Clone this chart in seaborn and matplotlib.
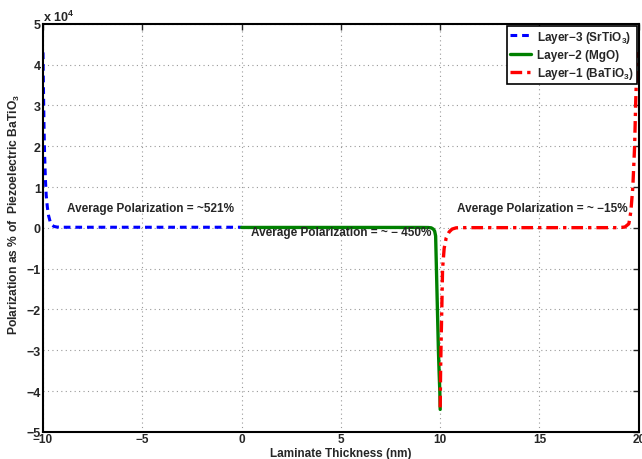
import matplotlib
matplotlib.use("Agg")
import matplotlib.pyplot as plt
import matplotlib.transforms as mtransforms
import seaborn as sns
import pandas as pd
from matplotlib.ticker import FuncFormatter

# ---- data ----
x3 = [-10, -9.98, -9.95, -9.92, -9.88, -9.84, -9.78, -9.72, -9.64, -9.55, -9.45, -9.3, -9, -8, -6, -4, -2, 0]
y3 = [43000, 35000, 25000, 18000, 12000, 8000, 5000, 3000, 1500, 700, 350, 200, 150, 150, 150, 150, 150, 150]

x2 = [0, 2, 4, 6, 8, 9, 9.4, 9.55, 9.65, 9.72, 9.77, 9.81, 9.86, 9.91, 9.95, 9.98, 10]
y2 = [100, 100, 100, 100, 100, 100, 80, 0, -300, -800, -2000, -10000, -20000, -30000, -36000, -40000, -44500]

x1 = [10, 10.02, 10.05, 10.08, 10.12, 10.2, 10.3, 10.45, 10.6, 10.8, 11, 13, 15, 17, 19, 19.3, 19.5, 19.6, 19.7, 19.79, 19.84, 19.9, 19.95, 20]
y1 = [-44000, -35000, -27000, -20000, -10000, -5000, -2500, -1000, -300, 0, 50, 50, 50, 50, 50, 200, 1000, 4000, 10000, 20000, 30000, 40000, 42000, 43000]

labels = ["Layer\u22123 (SrTiO$_3$)", "Layer\u22122 (MgO)", "Layer\u22121 (BaTiO$_3$)"]
annotations = ["Average Polarization = ~521%", "Average Polarization = ~ \u2212 450%", "Average Polarization = ~ \u221215%"]
ann_pos = [(-8.8, 4800), (0.45, -1000), (10.85, 4800)]
x_ticks = [-10, -5, 0, 5, 10, 15, 20]
y_ticks = [-5, -4, -3, -2, -1, 0, 1, 2, 3, 4, 5]

sns.set_style("white")
plt.rcParams['font.family'] = ['Liberation Sans', 'DejaVu Sans']
plt.rcParams['font.weight'] = 'bold'
plt.rcParams['mathtext.fontset'] = 'custom'
plt.rcParams['mathtext.rm'] = 'Liberation Sans:bold'
plt.rcParams['mathtext.default'] = 'regular'

fig = plt.figure(figsize=(6.42, 4.60), dpi=100)
ax = fig.add_axes([0.067, 0.059, 0.928, 0.887])

df3 = pd.DataFrame({"x": x3, "y": y3})
df2 = pd.DataFrame({"x": x2, "y": y2})
df1 = pd.DataFrame({"x": x1, "y": y1})

sns.lineplot(data=df3, x="x", y="y", ax=ax, color="#0000ff", linestyle=(0, (2.2, 1.6)), lw=2.2,
             sort=False, estimator=None, label=labels[0])
sns.lineplot(data=df2, x="x", y="y", ax=ax, color="#008000", linestyle="-", lw=2.4,
             sort=False, estimator=None, label=labels[1])
sns.lineplot(data=df1, x="x", y="y", ax=ax, color="#ff0000", linestyle=(0, (3.5, 1.5, 1, 1.5)), lw=2.4,
             sort=False, estimator=None, label=labels[2])

ax.set_xlim(-10, 20)
ax.set_ylim(-50000, 50000)
ax.set_xticks(x_ticks)
ax.set_yticks([v * 10000 for v in y_ticks])
ax.xaxis.set_major_formatter(FuncFormatter(lambda v, p: f"{v:g}".replace("-", "\u2212")))
ax.yaxis.set_major_formatter(FuncFormatter(lambda v, p: f"{v/10000:g}".replace("-", "\u2212")))
ax.tick_params(direction="in", length=4, width=1, top=True, right=True, labelsize=9)
ax.tick_params(axis="x", pad=0.5, labelsize=8.5)
ax.tick_params(axis="y", pad=1.5)
for lab in ax.get_xticklabels() + ax.get_yticklabels():
    lab.set_fontweight("bold")
ax.grid(True, linestyle=(0, (1, 3)), color="#999999", lw=0.8)
for s in ax.spines.values():
    s.set_color("black")
    s.set_linewidth(1.5)

ax.set_xlabel("Laminate Thickness (nm)", fontsize=8.5, fontweight="bold")
ax.xaxis.label.set_va("bottom")
ax.xaxis.set_label_coords(0.5, 0.0, transform=mtransforms.blended_transform_factory(ax.transAxes, fig.transFigure))
ax.set_ylabel("Polarization as % of  Piezoelectric BaTiO$_3$", fontsize=8.7, fontweight="bold")
ax.yaxis.set_label_coords(-0.036, 0.535)
ax.text(0.0, 1.0, "x 10$^4$", transform=ax.transAxes, fontsize=9, fontweight="bold", va="bottom", ha="left")

for t, (tx, ty) in zip(annotations, ann_pos):
    ax.text(tx, ty, t, fontsize=8.5, fontweight="bold", va="center", ha="left")

leg = ax.legend(loc="upper right", fontsize=8.5, frameon=True, fancybox=False, handlelength=1.8,
                borderaxespad=0.15, labelspacing=0.35, handletextpad=0.5, borderpad=0.25)
leg.get_frame().set_edgecolor("black")
leg.get_frame().set_linewidth(1.2)
leg.get_frame().set_alpha(1)
for t in leg.get_texts():
    t.set_fontweight("bold")

fig.savefig("out.png", dpi=100)
